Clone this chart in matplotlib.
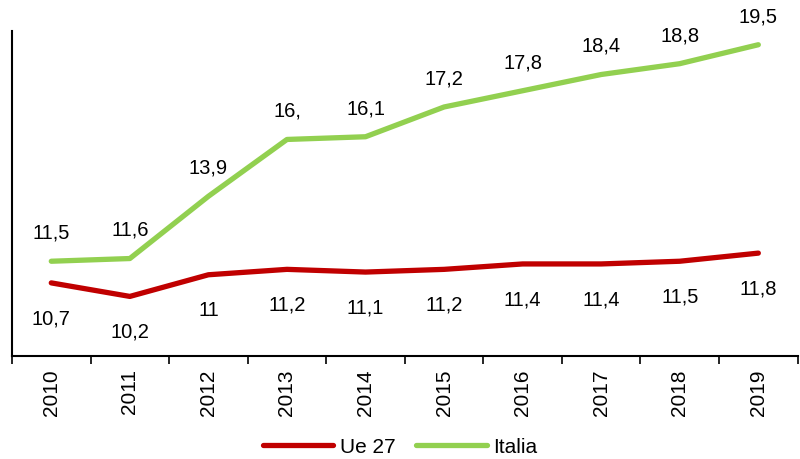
import matplotlib
matplotlib.use("Agg")
from matplotlib import pyplot as plt

years = ["2010", "2011", "2012", "2013", "2014", "2015", "2016", "2017", "2018", "2019"]
ue27 = [10.7, 10.2, 11.0, 11.2, 11.1, 11.2, 11.4, 11.4, 11.5, 11.8]
ue27_labels = ["10,7", "10,2", "11", "11,2", "11,1", "11,2", "11,4", "11,4", "11,5", "11,8"]
italia = [11.5, 11.6, 13.9, 16.0, 16.1, 17.2, 17.8, 18.4, 18.8, 19.5]
italia_labels = ["11,5", "11,6", "13,9", "16,", "16,1", "17,2", "17,8", "18,4", "18,8", "19,5"]

RED = "#C00000"
GREEN = "#92D050"

plt.rcParams["font.family"] = ["Liberation Sans", "DejaVu Sans"]

fig = plt.figure(figsize=(8, 4.6), dpi=100)
ax = fig.add_axes([0.015, 0.224, 0.982, 0.706])

x = list(range(len(years)))
ax.plot(x, ue27, color=RED, lw=3.8, solid_capstyle="round", label="Ue 27")
ax.plot(x, italia, color=GREEN, lw=3.8, solid_capstyle="round", label="Italia")

for xi, v, t in zip(x, italia, italia_labels):
    ax.annotate(t, (xi, v), xytext=(0, 21), textcoords="offset points",
                ha="center", va="center", fontsize=14.5)
for xi, v, t in zip(x, ue27, ue27_labels):
    ax.annotate(t, (xi, v), xytext=(0, -25), textcoords="offset points",
                ha="center", va="center", fontsize=14.5)

ax.set_xlim(-0.5, len(years) - 0.5)
ax.set_ylim(8, 20)
ax.set_yticks([])

# category labels centred, tick marks on the category boundaries
ax.set_xticks(x)
ax.set_xticklabels(years, rotation=90, fontsize=15)
ax.tick_params(axis="x", which="major", length=0, pad=9)
ax.set_xticks([i - 0.5 for i in range(len(years) + 1)], minor=True)
ax.tick_params(axis="x", which="minor", length=6, width=1.2, direction="out")

for side in ["top", "right"]:
    ax.spines[side].set_visible(False)
ax.spines["left"].set_linewidth(1.5)
ax.spines["bottom"].set_linewidth(1.5)

fig.legend(loc="lower center", bbox_to_anchor=(0.5, -0.035), ncol=2, frameon=False,
           fontsize=15, handlelength=3.4, columnspacing=1.0, handletextpad=0.3)

fig.savefig("out.png", dpi=100)
